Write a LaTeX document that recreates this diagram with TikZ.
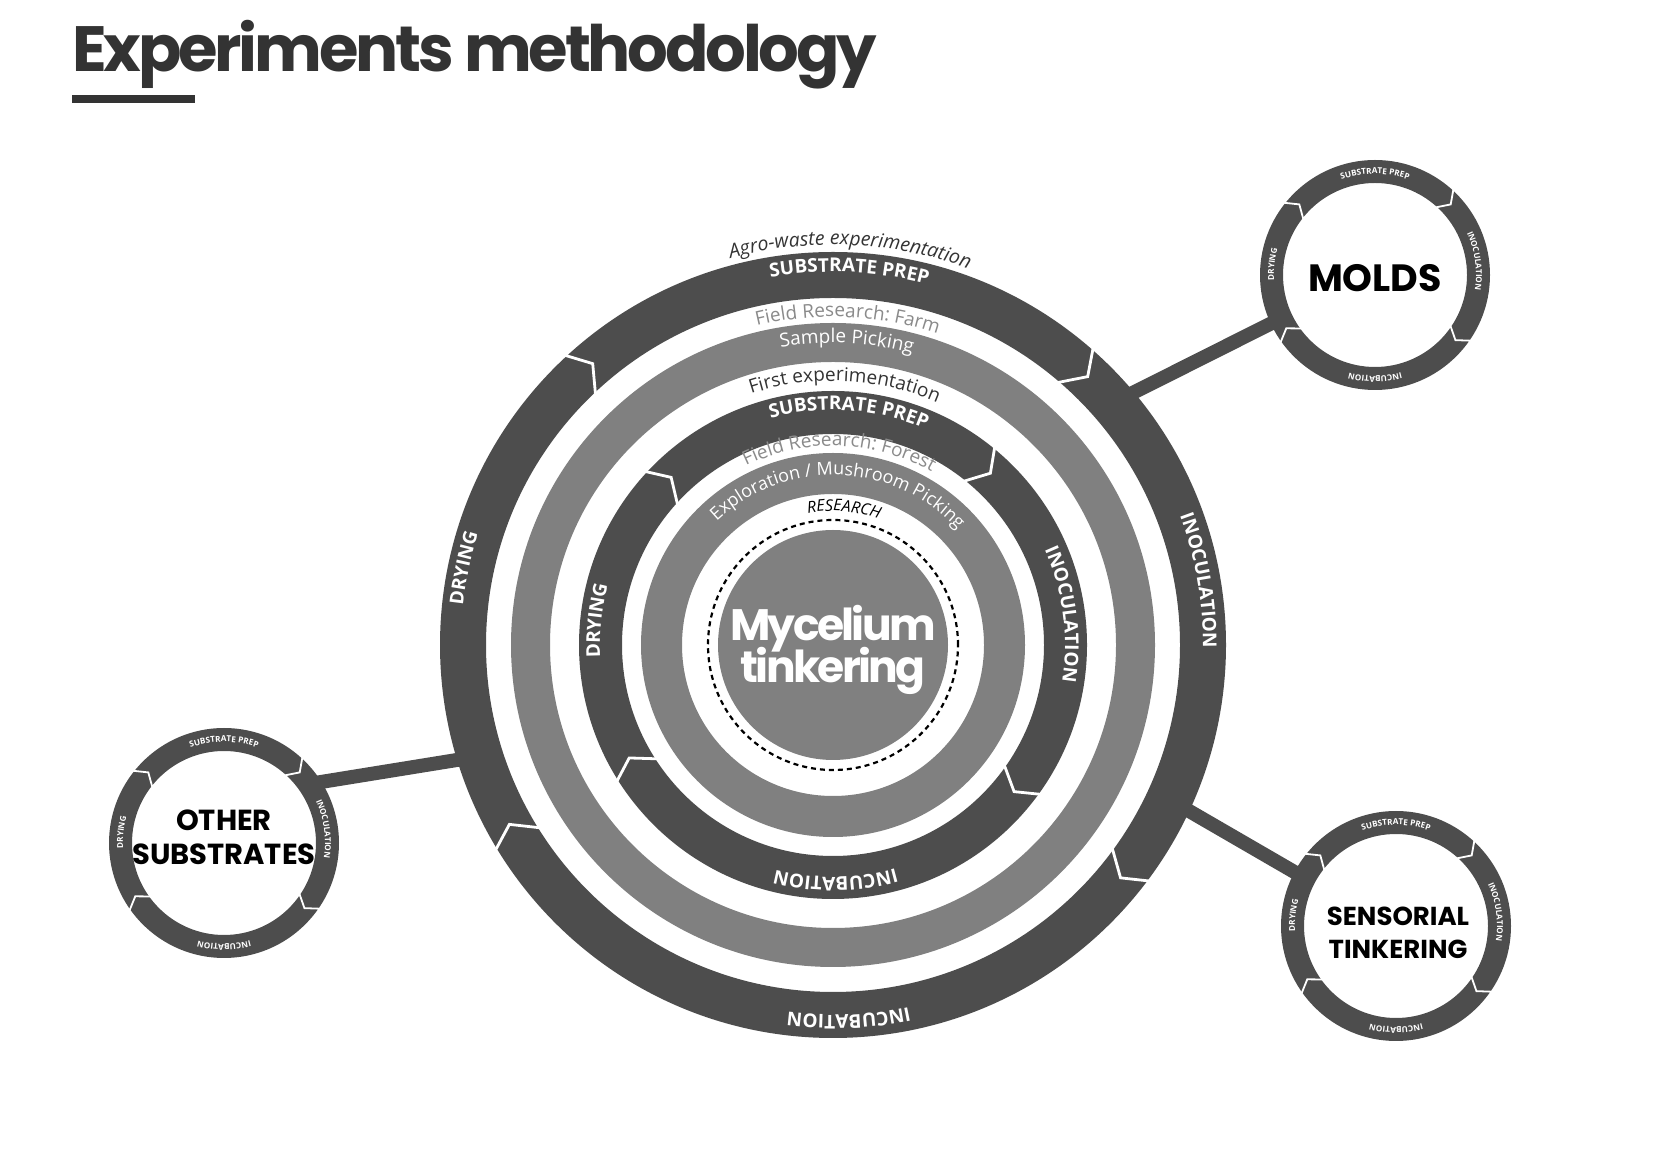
\documentclass[tikz,border=0pt]{standalone}
\usepackage{fontspec}
\setmainfont{Open Sans}
\newfontfamily\popfont{Poppins}
\newfontfamily\poptight{Poppins}[LetterSpace=-5]
\newfontfamily\popcore{Poppins}[LetterSpace=-6]
\usetikzlibrary{decorations.text}
\definecolor{ringdark}{HTML}{4D4D4D}
\definecolor{ringgray}{HTML}{808080}
\definecolor{inkgray}{HTML}{333333}
\definecolor{fieldgray}{HTML}{8A8A8A}
\tikzset{
  ring/.style={fill=ringdark, even odd rule},
  seam/.style={draw=white, line width=1.4pt, line join=miter},
  link/.style={draw=ringdark, line width=7pt, shorten <=-6pt, shorten >=-6pt},
  hubnode/.style={circle, inner sep=0pt, minimum size=393pt},
  satnode/.style={circle, inner sep=0pt, minimum size=115pt},
  sattext/.style={align=center, text=black, inner sep=0pt},
  coretext/.style={anchor=base, text=white, inner sep=0pt, font=\popcore\bfseries\fontsize{22pt}{21pt}\selectfont},
}
\newcommand\ringlabel[5]{%
  \path[decorate, decoration={text along path, text align=center, text color=#1, text={|#2|#5}}]
    ({#4+80}:#3) arc[start angle={#4+80}, end angle={#4-80}, radius=#3];}
\newcommand\capsfont{\bfseries\fontsize{9.5pt}{12pt}\selectfont}
\newcommand\plainfont{\fontsize{9.5pt}{12pt}\selectfont}
\newcommand\tinyfont{\bfseries\fontsize{4.1pt}{5pt}\selectfont}
\begin{document}
\begin{tikzpicture}[x=0.5pt,y=0.5pt]
\useasboundingbox (0,0) rectangle (1660,1162);
\node[anchor=base west, inner sep=0pt, text=inkgray, font=\poptight\bfseries\fontsize{32pt}{36pt}\selectfont] (title) at (72,1090) {Experiments methodology};
\fill[inkgray] (72,1059) rectangle (195,1067);
\node[hubnode] (hub) at (833,517) {};
\node[satnode] (molds) at (1375,887) {};
\node[satnode] (sensorial) at (1396,236) {};
\node[satnode] (others) at (224,319) {};
\draw[link] (hub.40.5) -- (molds.205);
\draw[link] (hub.-25.6) -- (sensorial.152);
\draw[link] (hub.197.3) -- (others.32);
\begin{scope}[shift={(hub.center)}]
\fill[ring] (0,0) circle[radius=393] (0,0) circle[radius=347];
\fill[ring, fill=ringgray] (0,0) circle[radius=322] (0,0) circle[radius=283];
\fill[ring] (0,0) circle[radius=254] (0,0) circle[radius=211];
\fill[ring, fill=ringgray] (0,0) circle[radius=192] (0,0) circle[radius=151];
\fill[ringgray] (0,0) circle[radius=115];
\draw[black, line width=1.1pt, dash pattern=on 2.5pt off 2pt] (0,0) circle[radius=125];
\foreach \a in {130.5,46.5,-39,209} \draw[seam] ({\a+2.3}:395) -- (\a:370) -- ({\a+3}:345);
\foreach \a in {134,47.5,-39,209} \draw[seam] ({\a+3.3}:256) -- (\a:233) -- ({\a+4}:209);
\ringlabel{inkgray}{\itshape\fontsize{9.75pt}{12pt}\selectfont}{400}{87.5}{Agro-waste experimentation}
\ringlabel{white}{\capsfont}{373}{87.5}{SUBSTRATE PREP}
\ringlabel{white}{\capsfont}{370}{10}{INOCULATION}
\ringlabel{white}{\capsfont}{370}{-87.6}{INCUBATION}
\ringlabel{white}{\capsfont}{372}{168.2}{DRYING}
\ringlabel{fieldgray}{\plainfont}{328}{87.4}{Field Research: Farm}
\ringlabel{white}{\plainfont}{302}{87.4}{Sample Picking}
\ringlabel{inkgray}{\plainfont}{264}{87.4}{First experimentation}
\ringlabel{white}{\capsfont}{235}{86.1}{SUBSTRATE PREP}
\ringlabel{white}{\capsfont}{232}{7.6}{INOCULATION}
\ringlabel{white}{\capsfont}{232}{-89.4}{INCUBATION}
\ringlabel{white}{\capsfont}{233}{174.1}{DRYING}
\ringlabel{fieldgray}{\plainfont}{199}{88.1}{Field Research: Forest}
\ringlabel{white}{\fontsize{9pt}{12pt}\selectfont}{170}{88}{Exploration / Mushroom Picking}
\ringlabel{black}{\itshape\fontsize{8pt}{10pt}\selectfont}{134}{85.4}{RESEARCH}
\end{scope}
\foreach \s in {molds,sensorial,others} {
  \begin{scope}[shift={(\s.center)}]
  \fill[ring] (0,0) circle[radius=115] (0,0) circle[radius=92];
  \foreach \a in {137,43,-39,211} \draw[seam, line width=0.9pt] ({\a+4.5}:116) -- (\a:103.5) -- ({\a+5}:91);
  \ringlabel{white}{\tinyfont}{101}{90}{SUBSTRATE PREP}
  \ringlabel{white}{\tinyfont}{101}{8}{INOCULATION}
  \ringlabel{white}{\tinyfont}{101}{-90}{INCUBATION}
  \ringlabel{white}{\tinyfont}{101}{174}{DRYING}
  \end{scope}
}
\node[coretext] (coretop) at (833,521) {Mycelium};
\node[coretext] (corebottom) at (833,479) {tinkering};
\node[sattext, font=\popfont\bfseries\fontsize{19pt}{22pt}\selectfont] (moldstext) at (1375,884) {MOLDS};
\node[sattext, font=\popfont\bfseries\fontsize{13pt}{16.5pt}\selectfont] (sensorialtext) at (1398,229) {SENSORIAL\\TINKERING};
\node[sattext, font=\popfont\bfseries\fontsize{14.5pt}{17pt}\selectfont] (otherstext) at (224,325) {OTHER\\SUBSTRATES};
\end{tikzpicture}
\end{document}
